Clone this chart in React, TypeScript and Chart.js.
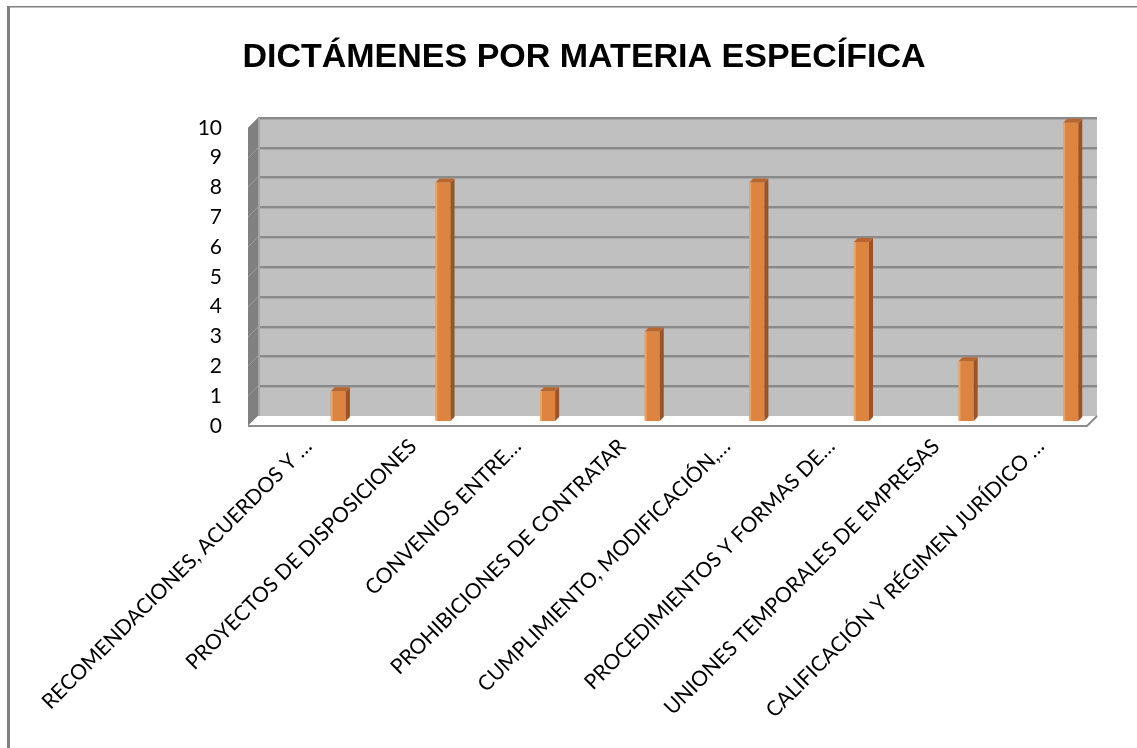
import React, { useEffect, useRef } from "react";
import { Chart, registerables } from "chart.js";

Chart.register(...registerables);

const chartTitle = "DICTÁMENES POR MATERIA ESPECÍFICA";
const categories = [
  "RECOMENDACIONES, ACUERDOS Y …",
  "PROYECTOS DE DISPOSICIONES",
  "CONVENIOS ENTRE…",
  "PROHIBICIONES DE CONTRATAR",
  "CUMPLIMIENTO, MODIFICACIÓN,…",
  "PROCEDIMIENTOS Y FORMAS DE…",
  "UNIONES TEMPORALES DE EMPRESAS",
  "CALIFICACIÓN Y RÉGIMEN JURÍDICO …",
];
const dictamenes = [1, 8, 1, 3, 8, 6, 2, 10];
const yTickValues = [0, 1, 2, 3, 4, 5, 6, 7, 8, 9, 10];

// 3D look constants
const WALL_LEFT_GAP = 28; // chartArea.left - back wall left
const WALL_RIGHT_GAP = 26; // chartArea.right - back wall right
const WALL_SHIFT_Y = 5; // back wall gridlines above the bar scale
const DEPTH = 10; // side wall / floor depth
const BAR_DX = 4;
const BAR_DY = 4;
const LEFT_PAD = 45;

const FRONT = "#DD8540";
const SIDE = "#9B5325";
const TOP = "#B8662D";

const wallPlugin = {
  id: "wall3d",
  beforeDraw(chart: any) {
    const { ctx, chartArea, scales } = chart;
    const y = scales.y;
    const wl = chartArea.left - WALL_LEFT_GAP;
    const wr = chartArea.right - WALL_RIGHT_GAP;
    const yTop = y.getPixelForValue(yTickValues[yTickValues.length - 1]) - WALL_SHIFT_Y;
    const yBot = y.getPixelForValue(yTickValues[0]) - WALL_SHIFT_Y;
    ctx.save();
    // outer frame
    ctx.fillStyle = "#808080";
    ctx.fillRect(7, 6, 3, chart.height - 6);
    ctx.fillRect(7, 6, chart.width - 7, 1.5);
    // back wall
    ctx.fillStyle = "#C0C0C0";
    ctx.fillRect(wl, yTop, wr - wl, yBot - yTop);
    // side wall
    ctx.fillStyle = "#808080";
    ctx.beginPath();
    ctx.moveTo(wl - DEPTH, yTop + DEPTH);
    ctx.lineTo(wl, yTop);
    ctx.lineTo(wl, yBot);
    ctx.lineTo(wl - DEPTH, yBot + DEPTH);
    ctx.closePath();
    ctx.fill();
    // gridlines
    for (const v of yTickValues) {
      if (v === yTickValues[0]) continue;
      const gy = Math.round(y.getPixelForValue(v) - WALL_SHIFT_Y);
      ctx.fillStyle = "#8A8A8A";
      ctx.fillRect(wl, gy - 1, wr - wl, 2);
      ctx.fillStyle = "#A8A8A8";
      ctx.fillRect(wl, gy + 1, wr - wl, 1);
      ctx.strokeStyle = "#9A9A9A";
      ctx.lineWidth = 1;
      ctx.beginPath();
      ctx.moveTo(wl, gy);
      ctx.lineTo(wl - DEPTH, gy + DEPTH);
      ctx.stroke();
    }
    // wall left edge
    ctx.fillStyle = "#A6A6A6";
    ctx.fillRect(wl, yTop, 2, yBot - yTop);
    // floor
    ctx.fillStyle = "#FFFFFF";
    ctx.beginPath();
    ctx.moveTo(wl, yBot);
    ctx.lineTo(wr, yBot);
    ctx.lineTo(wr - DEPTH, yBot + DEPTH);
    ctx.lineTo(wl - DEPTH, yBot + DEPTH);
    ctx.closePath();
    ctx.fill();
    ctx.strokeStyle = "#8C8C8C";
    ctx.lineWidth = 2;
    ctx.beginPath();
    ctx.moveTo(wl - DEPTH, yBot + DEPTH);
    ctx.lineTo(wr - DEPTH, yBot + DEPTH);
    ctx.lineTo(wr, yBot);
    ctx.stroke();
    ctx.restore();
  },
  afterDatasetsDraw(chart: any) {
    const { ctx } = chart;
    const meta = chart.getDatasetMeta(0);
    ctx.save();
    meta.data.forEach((bar: any) => {
      const p = bar.getProps(["x", "y", "base", "width"], true);
      const l = p.x - p.width / 2;
      const r = p.x + p.width / 2;
      // side face
      ctx.fillStyle = SIDE;
      ctx.beginPath();
      ctx.moveTo(r, p.y);
      ctx.lineTo(r + BAR_DX, p.y - BAR_DY);
      ctx.lineTo(r + BAR_DX, p.base - BAR_DY);
      ctx.lineTo(r, p.base);
      ctx.closePath();
      ctx.fill();
      // top face
      ctx.fillStyle = TOP;
      ctx.beginPath();
      ctx.moveTo(l, p.y);
      ctx.lineTo(l + BAR_DX, p.y - BAR_DY);
      ctx.lineTo(r + BAR_DX, p.y - BAR_DY);
      ctx.lineTo(r, p.y);
      ctx.closePath();
      ctx.fill();
      // highlight on left edge
      ctx.fillStyle = "rgba(255,200,150,0.45)";
      ctx.fillRect(l, p.y, 2, p.base - p.y);
    });
    ctx.restore();
  },
};

export default function App() {
  const canvasRef = useRef<HTMLCanvasElement | null>(null);

  useEffect(() => {
    if (!canvasRef.current) return;
    const chart = new Chart(canvasRef.current, {
      type: "bar",
      data: {
        labels: categories,
        datasets: [
          {
            label: "Dictámenes",
            data: dictamenes,
            backgroundColor: FRONT,
            borderWidth: 0,
            barPercentage: 0.145,
            categoryPercentage: 1,
          },
        ],
      },
      options: {
        responsive: false,
        animation: false,
        devicePixelRatio: 1,
        layout: { padding: { left: LEFT_PAD, right: 14, top: 0, bottom: 0 } },
        plugins: {
          legend: { display: false },
          tooltip: { enabled: false },
          title: {
            display: true,
            text: chartTitle,
            color: "#000000",
            font: { family: "'Liberation Sans', Arial, sans-serif", size: 34, weight: "bold", lineHeight: 1.2 },
            padding: { top: 37, bottom: 45 },
          },
        },
        scales: {
          x: {
            offset: true,
            grid: { display: false, drawTicks: false, tickLength: 0 },
            border: { display: false },
            ticks: {
              autoSkip: false,
              maxRotation: 45,
              minRotation: 45,
              padding: 13,
              labelOffset: -30,
              color: "#000000",
              font: { family: "Lato, 'Open Sans', sans-serif", size: 21 },
            },
            afterFit: (s: any) => {
              s.height = 327;
            },
          },
          y: {
            min: yTickValues[0],
            max: yTickValues[yTickValues.length - 1],
            grid: { display: false, drawTicks: false, tickLength: 0 },
            border: { display: false },
            ticks: {
              stepSize: 1,
              padding: 64,
              labelOffset: 5,
              color: "#000000",
              font: { family: "Lato, 'Open Sans', sans-serif", size: 21 },
            },
            afterFit: (s: any) => {
              s.width = 286 - LEFT_PAD;
            },
          },
        },
      },
      plugins: [wallPlugin],
    });
    return () => chart.destroy();
  }, []);

  return (
    <div style={{ position: "absolute", left: 0, top: 0, width: 1137, height: 748, background: "#fff" }}>
      <canvas ref={canvasRef} width={1137} height={748} style={{ display: "block" }} />
    </div>
  );
}
